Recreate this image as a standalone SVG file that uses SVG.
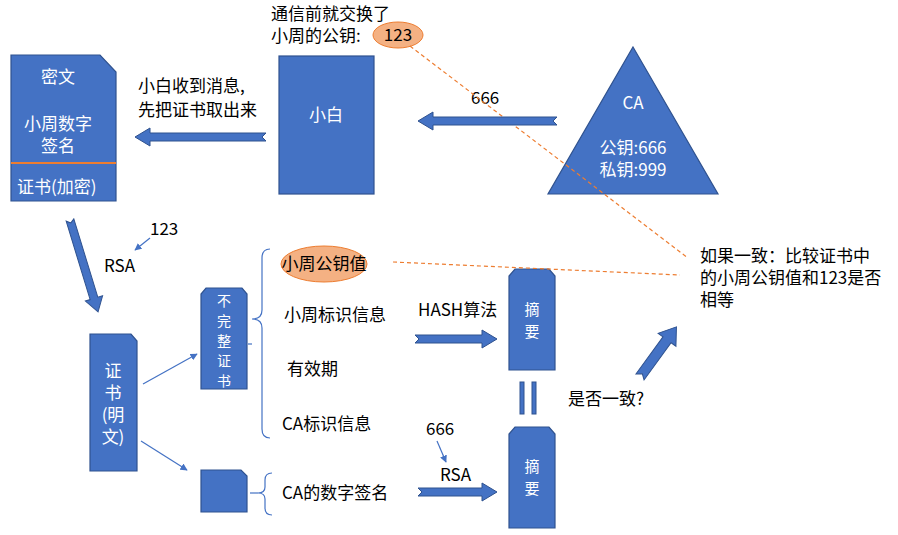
<svg xmlns="http://www.w3.org/2000/svg" width="898" height="535" viewBox="0 0 898 535">
<style>
text{font-family:"Microsoft YaHei","Noto Sans CJK SC",sans-serif;font-size:17px;fill:#000}
.w{fill:#fff}
.b{fill:#4472c4;stroke:#2f528f;stroke-width:1.2}
.ba{fill:#4472c4;stroke:#2f528f;stroke-width:1}
.thin{stroke:#4472c4;stroke-width:1.2;fill:none}
.dash{stroke:#ed7d31;stroke-width:1.2;stroke-dasharray:4 3;fill:none}
.br{stroke:#4472c4;stroke-width:1.2;fill:none}
</style>
<defs>
<marker id="ah" viewBox="0 0 10 10" refX="9" refY="5" markerWidth="6" markerHeight="6" orient="auto"><path d="M0,0L10,5L0,10z" fill="#4472c4"/></marker>
</defs>
<g id="top-note"><text x="271" y="20">通信前就交换了</text><text x="271" y="42">小周的公钥:</text>
<ellipse cx="398" cy="35" rx="25" ry="13" fill="#f4b183" stroke="#ed7d31"/><text x="398" y="41" text-anchor="middle">123</text></g>
<g id="mw"><path class="b" d="M11,55H100L116,72V201H11Z"/><line x1="11" y1="163" x2="116" y2="163" stroke="#ed7d31" stroke-width="2"/>
<text class="w" x="58" y="83" text-anchor="middle">密文</text><text class="w" x="58" y="130" text-anchor="middle">小周数字</text><text class="w" x="58" y="152" text-anchor="middle">签名</text><text class="w" x="17" y="193">证书(加密)</text></g>
<g id="xb"><rect class="b" x="279" y="56" width="95" height="138"/><text class="w" x="326" y="121" text-anchor="middle">小白</text></g>
<g id="ca"><path class="b" d="M633,47L718,194H548Z"/><text class="w" x="633" y="109" text-anchor="middle">CA</text><text class="w" x="633" y="154" text-anchor="middle">公钥:666</text><text class="w" x="633" y="176" text-anchor="middle">私钥:999</text></g>
<g id="t1"><text x="138" y="92">小白收到消息,</text><text x="138" y="116">先把证书取出来</text><text x="471" y="104">666</text></g>
<g id="zs"><path class="b" d="M90,334H131L137,341V471H90Z"/><text class="w" x="113" y="377" text-anchor="middle">证</text><text class="w" x="113" y="399" text-anchor="middle">书</text><text class="w" x="113" y="421" text-anchor="middle">(明</text><text class="w" x="113" y="443" text-anchor="middle">文)</text></g>
<g id="bwz"><path class="b" d="M206,288H242L247,294V389H201V294Z"/>
<text class="w" font-size="14" x="224" y="306" text-anchor="middle" style="font-size:14px">不</text><text class="w" x="224" y="326" text-anchor="middle" style="font-size:14px">完</text><text class="w" x="224" y="346" text-anchor="middle" style="font-size:14px">整</text><text class="w" x="224" y="366" text-anchor="middle" style="font-size:14px">证</text><text class="w" x="224" y="386" text-anchor="middle" style="font-size:14px">书</text></g>
<g id="sq"><path class="b" d="M201,470H241L247,476V512H201Z"/></g>
<g id="zy1"><path class="b" d="M515,269H549L555,276V370H509V276Z"/><text class="w" x="532" y="315" text-anchor="middle" style="font-size:15px">摘</text><text class="w" x="532" y="337" text-anchor="middle" style="font-size:15px">要</text></g>
<g id="zy2"><path class="b" d="M515,427H549L555,434V528H509V434Z"/><text class="w" x="532" y="472" text-anchor="middle" style="font-size:15px">摘</text><text class="w" x="532" y="494" text-anchor="middle" style="font-size:15px">要</text></g>
<g id="fields"><ellipse cx="324" cy="264" rx="43" ry="18" fill="#f4b183" stroke="#ed7d31"/>
<text x="324" y="270" text-anchor="middle">小周公钥值</text><text x="284" y="321">小周标识信息</text><text x="287" y="375">有效期</text><text x="282" y="430">CA标识信息</text><text x="282" y="499">CA的数字签名</text>
<text x="418" y="316">HASH算法</text><text x="426" y="435">666</text><text x="440" y="481">RSA</text><text x="150" y="235">123</text><text x="104" y="272">RSA</text>
<text x="568" y="405">是否一致?</text><text x="700" y="262">如果一致：比较证书中</text><text x="700" y="284">的小周公钥值和123是否</text><text x="700" y="306">相等</text></g>
<g id="connectors">
<path class="br" d="M270,249Q262,249 262,258V310Q262,319 252,319Q262,319 262,328V429Q262,438 270,438"/>
<path class="br" d="M272,473Q265,473 265,480V487Q265,493 258,493Q265,493 265,499V508Q265,515 272,515"/>
<line class="dash" x1="410" y1="46" x2="688" y2="258"/><line class="dash" x1="393" y1="262" x2="680" y2="275"/>
<path class="ba" d="M266,133H150V128L135,137L150,146V141H266L262,137Z"/>
<path class="ba" d="M557,117H433V112L418,121L433,130V125H557L553,121Z"/>
<path class="ba" d="M415,335H482V330L497,339L482,348V343H415L419,339Z"/>
<path class="ba" d="M418,488H482V483L497,492L482,501V496H418L422,492Z"/>
<g transform="translate(640,377) rotate(-54)"><path class="ba" d="M0,-5H46V-11L62,0L46,11V5H0L4,0Z"/></g>
<g transform="translate(70,220) rotate(73)"><path class="ba" d="M0,-4H82V-9L96,0L82,9V4H0L3,0Z"/></g>
<rect x="520" y="382" width="4" height="32" class="ba"/><rect x="532" y="382" width="4" height="32" class="ba"/>
<line class="thin" x1="150" y1="238" x2="135" y2="250" marker-end="url(#ah)"/>
<line class="thin" x1="437" y1="441" x2="446" y2="462" marker-end="url(#ah)"/>
<line class="thin" x1="143" y1="384" x2="197" y2="354" marker-end="url(#ah)"/>
<line class="thin" x1="141" y1="441" x2="187" y2="470" marker-end="url(#ah)"/>
<line class="thin" x1="248" y1="344" x2="252" y2="344"/>
<line class="thin" x1="250" y1="493" x2="258" y2="493"/>
</g>
</svg>
